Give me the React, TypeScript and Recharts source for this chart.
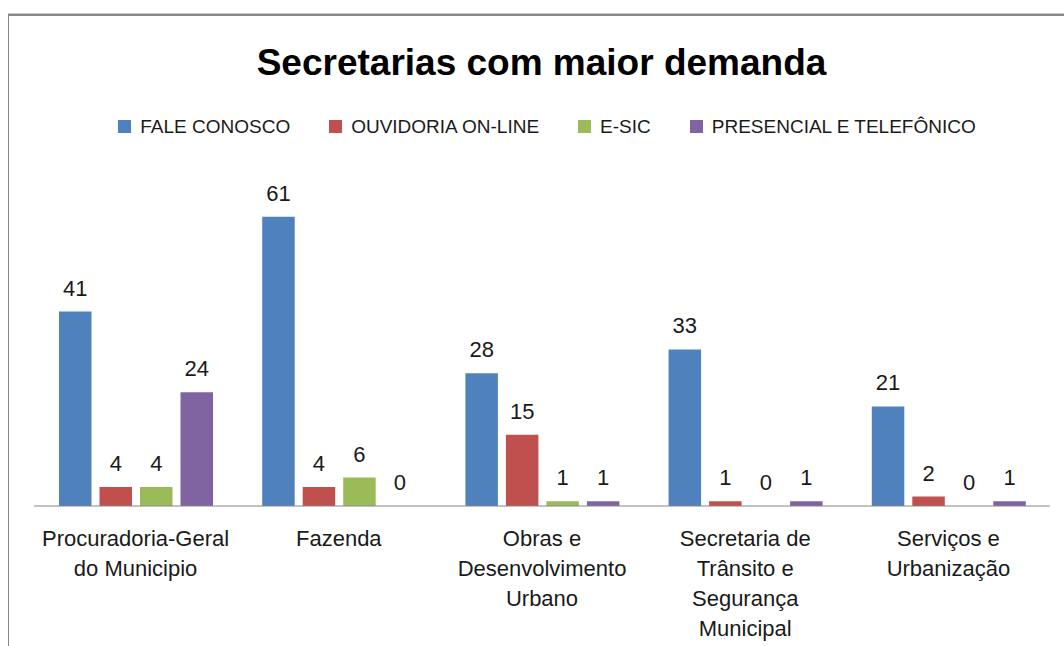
import React from 'react';
import { BarChart, Bar, XAxis, YAxis, LabelList, Legend } from 'recharts';

const categories = [
  'Procuradoria-Geral do Municipio',
  'Fazenda',
  'Obras e Desenvolvimento Urbano',
  'Secretaria de Trânsito e Segurança Municipal',
  'Serviços e Urbanização',
];
const categoryLines = [
  ['Procuradoria-Geral', 'do Municipio'],
  ['Fazenda'],
  ['Obras e', 'Desenvolvimento', 'Urbano'],
  ['Secretaria de', 'Trânsito e', 'Segurança', 'Municipal'],
  ['Serviços e', 'Urbanização'],
];
const faleConosco = [41, 61, 28, 33, 21];
const ouvidoria = [4, 4, 15, 1, 2];
const esic = [4, 6, 1, 0, 0];
const presencial = [24, 0, 1, 1, 1];
const seriesKeys = ['fale', 'ouvidoria', 'esic', 'presencial'];
const seriesNames = ['FALE CONOSCO', 'OUVIDORIA ON-LINE', 'E-SIC', 'PRESENCIAL E TELEFÔNICO'];
const seriesColors = ['#4F81BD', '#C0504D', '#9BBB59', '#8064A2'];
const yDomain = [0, 70];
const title = 'Secretarias com maior demanda';

const data = categories.map((name, i) => ({
  name,
  fale: faleConosco[i],
  ouvidoria: ouvidoria[i],
  esic: esic[i],
  presencial: presencial[i],
}));

const FONT = '"Liberation Sans", Arial, sans-serif';
const TEXT = '#1a1a1a';

const CategoryTick = (props: any) => {
  const { x, y, payload } = props;
  const idx = categories.indexOf(payload.value);
  const lines = categoryLines[idx] || [payload.value];
  return (
    <text x={x} y={y} textAnchor="middle" fontFamily={FONT} fontSize={22} fill={TEXT}>
      {lines.map((l, i) => (
        <tspan key={i} x={x} y={y + 39.5 + i * 30}>
          {l}
        </tspan>
      ))}
    </text>
  );
};

const LegendContent = () => (
  <div
    style={{
      display: 'flex',
      justifyContent: 'center',
      alignItems: 'center',
      gap: 39,
      fontFamily: FONT,
      fontSize: 19,
      lineHeight: '19px',
      color: TEXT,
      paddingLeft: 30,
    }}
  >
    {seriesNames.map((n, i) => (
      <div key={n} style={{ display: 'flex', alignItems: 'center' }}>
        <div style={{ width: 13, height: 13, background: seriesColors[i], marginRight: 9 }} />
        <span style={{ whiteSpace: 'nowrap' }}>{n}</span>
      </div>
    ))}
  </div>
);

const zeroMin = (value: any) => (Number(value) === 0 ? 0.01 : 0);

export default function App() {
  return (
    <div
      style={{
        position: 'absolute',
        left: 0,
        top: 0,
        width: 1064,
        height: 646,
        overflow: 'hidden',
        background: '#fff',
      }}
    >
      <div
        style={{
          position: 'absolute',
          left: 8,
          top: 13,
          width: 1200,
          height: 800,
          borderTop: '1px solid #c8c8c8',
        }}
      />
      <div
        style={{
          position: 'absolute',
          left: 8,
          top: 14,
          width: 1200,
          height: 800,
          borderTop: '2px solid #868686',
          borderLeft: '1px solid #868686',
        }}
      />
      <div
        style={{
          position: 'absolute',
          left: 0,
          top: 44,
          width: 1083,
          textAlign: 'center',
          fontFamily: FONT,
          fontWeight: 'bold',
          fontSize: 37,
          lineHeight: '37px',
          color: '#000',
        }}
      >
        {title}
      </div>
      <div style={{ position: 'absolute', left: 0, top: 0 }}>
        <BarChart
          width={1064}
          height={646}
          data={data}
          margin={{ top: 174, right: 14, left: 34, bottom: 0 }}
          barGap={8}
        >
          <XAxis
            dataKey="name"
            height={140}
            interval={0}
            tickLine={false}
            tickSize={0}
            tickMargin={0}
            axisLine={{ stroke: '#868686', strokeWidth: 1 }}
            tick={<CategoryTick />}
          />
          <YAxis hide domain={yDomain} />
          <Legend
            layout="horizontal"
            align="center"
            verticalAlign="middle"
            wrapperStyle={{ top: 117, left: 0, width: 1064 }}
            content={<LegendContent />}
          />
          {seriesKeys.map((k, i) => (
            <Bar
              key={k}
              dataKey={k}
              name={seriesNames[i]}
              fill={seriesColors[i]}
              barSize={32.5}
              minPointSize={zeroMin}
              isAnimationActive={false}
            >
              <LabelList
                dataKey={k}
                position="top"
                offset={16}
                fontFamily={FONT}
                fontSize={22}
                fill={TEXT}
              />
            </Bar>
          ))}
        </BarChart>
      </div>
    </div>
  );
}
